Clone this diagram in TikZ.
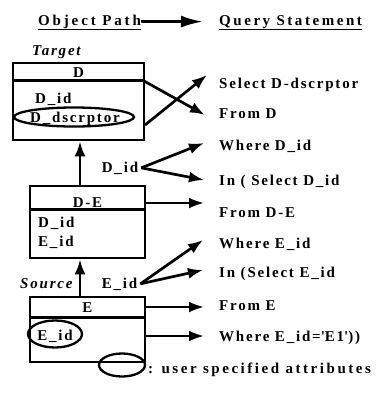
\documentclass[tikz,border=0pt]{standalone}
\usepackage{fontspec}
\setmainfont{Liberation Serif}[LetterSpace=12]
\usetikzlibrary{arrows.meta,shapes.geometric}
\begin{document}
\begin{tikzpicture}[x=1pt,y=-1pt,
  lw/.style={line width=2.7pt},
  box/.style={draw, line width=2.7pt, inner sep=0pt},
  arr/.style={line width=2.7pt, -{Latex[length=15pt,width=11pt]}},
  txt/.style={font=\fontsize{15}{17}\selectfont\bfseries, inner sep=0pt, anchor=base west},
  lbl/.style={font=\fontsize{15}{17}\selectfont\bfseries, inner sep=0pt, anchor=base},
  ital/.style={font=\fontsize{15}{17}\selectfont\bfseries\itshape, inner sep=0pt, anchor=base west},
  oval/.style={draw, ellipse, line width=2.3pt, inner sep=0pt}]
\useasboundingbox (0,0) rectangle (376,394);
% title
\node[txt] (op) at (38,25) {\addfontfeature{LetterSpace=19}\underline{Object Path}};
\node[txt] (qs) at (219,25) {\addfontfeature{LetterSpace=17}\underline{Query Statement}};
\draw[line width=2.7pt, -{Latex[length=22pt,width=12pt]}] ([yshift=1pt]op.east) -- ([xshift=-16pt,yshift=1pt]qs.west);
% boxes
\node[ital] (tg) at (32,55) {Target};
\node[box, minimum width=131pt, minimum height=77pt] (Dbox) at (78.5,101.5) {};
\draw[lw] (13,80.5) -- (144,80.5);
\node[lbl] (Dt) at (78.5,77) {D};
\node[txt] (d1) at (35,103.5) {D\_id};
\node[oval, minimum width=120pt, minimum height=19pt] (ddo) at (74,117) {};
\node[lbl] (dd) at (75,122) {D\_dscrptor};

\node[box, minimum width=115pt, minimum height=72pt] (DEbox) at (87.5,222) {};
\draw[lw] (30,209.5) -- (145,209.5);
\node[lbl] (DEt) at (87.5,207) {D-E};
\node[txt] (de1) at (38,227) {D\_id};
\node[txt] (de2) at (38,246) {E\_id};

\node[ital] (src) at (20,288) {Source};
\node[box, minimum width=115pt, minimum height=65pt] (Ebox) at (87.5,329.5) {};
\draw[lw] (30,317.5) -- (145,317.5);
\node[lbl] (Et) at (87.5,312.5) {E};
\node[oval, minimum width=54pt, minimum height=27pt] (eo) at (55,334) {};
\node[lbl] (e1) at (55,340) {E\_id};

% vertical arrows
\draw[arr] ([xshift=-7.5pt]DEbox.north) -- ([xshift=-7.5pt]DEbox.north |- Dbox.south);
\draw[arr] ([xshift=-7.5pt]Ebox.north) -- ([xshift=-7.5pt]Ebox.north |- DEbox.south);

% labels on path
\node[lbl] (dl) at (120,172) {D\_id};
\node[lbl] (el) at (119.5,288) {E\_id};

% query statements
\node[txt] (sel) at (219,88) {Select D-dscrptor};
\node[txt] (fromD) at (219,118) {From D};
\node[txt] (whereD) at (219,150) {Where D\_id};
\node[txt] (inD) at (219,185) {In ( Select D\_id};
\node[txt] (fromDE) at (219,217) {From D-E};
\node[txt] (whereE) at (219,248) {Where E\_id};
\node[txt] (inE) at (219,277) {In (Select E\_id};
\node[txt] (fromE) at (219,310) {From E};
\node[txt] (whereE1) at (219,341) {Where E\_id=\textquotesingle E1\textquotesingle))};

% connectors
\coordinate (s1) at (144,81);
\coordinate (s2) at (145,125);
\draw[arr] (s1) -- ([shift={(-14pt,3pt)}]fromD.base west);
\draw[arr] (s2) -- ([shift={(-12pt,13pt)}]sel.base west);
\draw[arr] ([xshift=3pt]dl.east) -- ([shift={(-15pt,7pt)}]whereD.base west);
\draw[arr] ([xshift=3pt]dl.east) -- ([shift={(-15pt,5pt)}]inD.base west);
\draw[arr] ([yshift=19pt]DEbox.east) -- ([shift={(-15pt,14pt)}]fromDE.base west);
\draw[arr] ([xshift=3pt]el.east) -- ([shift={(-16pt,8pt)}]whereE.base west);
\draw[arr] ([xshift=3pt]el.east) -- ([shift={(-16pt,7pt)}]inE.base west);
\draw[arr] ([yshift=22.5pt]Ebox.east) -- ([shift={(-15pt,3pt)}]fromE.base west);
\draw[arr] ([yshift=-6.5pt]Ebox.east) -- ([shift={(-15pt,5pt)}]whereE1.base west);

% legend
\node[oval, minimum width=46pt, minimum height=23pt] (lg) at (122,365) {};
\node[txt] (lgt) at (148,373.5) {\addfontfeature{LetterSpace=17}: user specified attributes};
\end{tikzpicture}
\end{document}
